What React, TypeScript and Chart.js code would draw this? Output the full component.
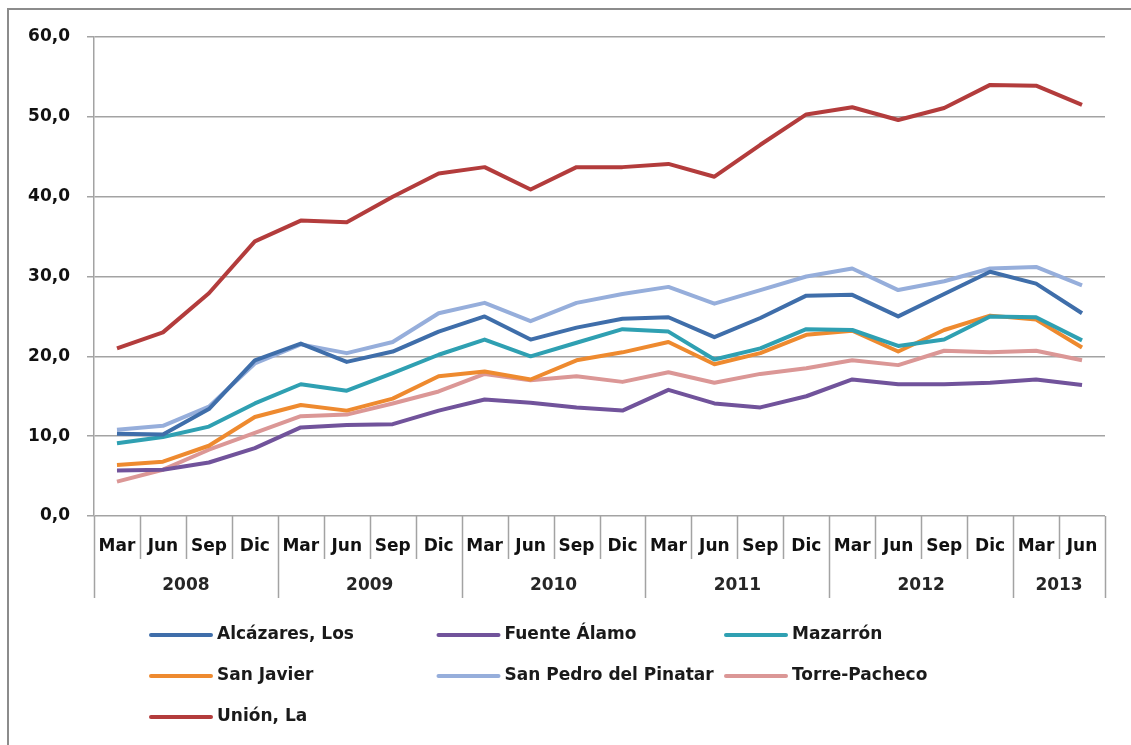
import React, { useEffect, useRef } from "react";
import { Chart, registerables } from "chart.js";

Chart.register(...registerables);

const monthLabels = [
  "Mar", "Jun", "Sep", "Dic",
  "Mar", "Jun", "Sep", "Dic",
  "Mar", "Jun", "Sep", "Dic",
  "Mar", "Jun", "Sep", "Dic",
  "Mar", "Jun", "Sep", "Dic",
  "Mar", "Jun",
];
const yearLabels = ["2008", "2009", "2010", "2011", "2012", "2013"];
const yearSpans = [4, 4, 4, 4, 4, 2];

const alcazares = [10.3, 10.2, 13.4, 19.5, 21.6, 19.3, 20.6, 23.1, 25.0, 22.1, 23.6, 24.7, 24.9, 22.4, 24.8, 27.6, 27.7, 25.0, 27.8, 30.6, 29.1, 25.4];
const fuenteAlamo = [5.7, 5.8, 6.7, 8.5, 11.1, 11.4, 11.5, 13.2, 14.6, 14.2, 13.6, 13.2, 15.8, 14.1, 13.6, 15.0, 17.1, 16.5, 16.5, 16.7, 17.1, 16.4];
const mazarron = [9.1, 9.9, 11.2, 14.1, 16.5, 15.7, 17.9, 20.2, 22.1, 20.0, 21.7, 23.4, 23.1, 19.6, 21.0, 23.4, 23.3, 21.3, 22.1, 25.0, 24.9, 22.0];
const sanJavier = [6.4, 6.8, 8.8, 12.4, 13.9, 13.2, 14.7, 17.5, 18.1, 17.1, 19.5, 20.5, 21.8, 19.0, 20.4, 22.7, 23.2, 20.6, 23.3, 25.1, 24.6, 21.1];
const sanPedro = [10.8, 11.3, 13.7, 19.1, 21.5, 20.4, 21.8, 25.4, 26.7, 24.4, 26.7, 27.8, 28.7, 26.6, 28.3, 30.0, 31.0, 28.3, 29.4, 31.0, 31.2, 28.9];
const torrePacheco = [4.3, 5.8, 8.3, 10.4, 12.5, 12.7, 14.1, 15.6, 17.8, 17.0, 17.5, 16.8, 18.0, 16.7, 17.8, 18.5, 19.5, 18.9, 20.7, 20.5, 20.7, 19.5];
const unionLa = [21.0, 23.0, 27.9, 34.4, 37.0, 36.8, 40.0, 42.9, 43.7, 40.9, 43.7, 43.7, 44.1, 42.5, 46.5, 50.3, 51.2, 49.6, 51.1, 54.0, 53.9, 51.5];

const seriesNames = [
  "Alcázares, Los",
  "Fuente Álamo",
  "Mazarrón",
  "San Javier",
  "San Pedro del Pinatar",
  "Torre-Pacheco",
  "Unión, La",
];
const seriesValues = [alcazares, fuenteAlamo, mazarron, sanJavier, sanPedro, torrePacheco, unionLa];
const seriesColors = ["#3F6EAA", "#71539B", "#2FA0B2", "#EE8A2F", "#96AEDB", "#DB9796", "#B33C3C"];

const FONT = '"DejaVu Sans", sans-serif';
const AXIS_GRAY = "#a3a3a3";

const decorPlugin = {
  id: "decor",
  beforeDraw(chart: any) {
    const ctx = chart.ctx;
    ctx.save();
    ctx.fillStyle = "#ffffff";
    ctx.fillRect(0, 0, chart.width, chart.height);
    ctx.strokeStyle = "#8c8c8c";
    ctx.lineWidth = 2;
    ctx.strokeRect(8, 9, chart.width + 50, chart.height + 50);
    ctx.restore();
  },
  afterDraw(chart: any) {
    const ctx = chart.ctx;
    const xs = chart.scales.x;
    const area = chart.chartArea;
    const bottom = area.bottom;
    ctx.save();
    ctx.strokeStyle = AXIS_GRAY;
    ctx.lineWidth = 1.5;
    const n = monthLabels.length;
    const yearBounds = new Set<number>();
    let acc = 0;
    yearBounds.add(0);
    yearSpans.forEach((s) => {
      acc += s;
      yearBounds.add(acc);
    });
    for (let i = 0; i <= n; i++) {
      const px = Math.round(xs.getPixelForValue(i - 0.5)) + 0.5;
      const len = yearBounds.has(i) ? 82 : 43;
      ctx.beginPath();
      ctx.moveTo(px, bottom);
      ctx.lineTo(px, bottom + len);
      ctx.stroke();
    }
    ctx.fillStyle = "#262626";
    ctx.font = `bold 17px ${FONT}`;
    ctx.textAlign = "center";
    ctx.textBaseline = "middle";
    let start = 0;
    yearSpans.forEach((s, k) => {
      const a = xs.getPixelForValue(start - 0.5);
      const b = xs.getPixelForValue(start + s - 0.5);
      ctx.fillText(yearLabels[k], (a + b) / 2, bottom + 70);
      start += s;
    });
    ctx.textAlign = "left";
    ctx.textBaseline = "middle";
    chart.data.datasets.forEach((ds: any, i: number) => {
      const col = i % 3;
      const row = Math.floor(i / 3);
      const lx = 151 + col * 287.5;
      const ly = bottom + 119 + row * 41;
      ctx.strokeStyle = ds.borderColor;
      ctx.lineWidth = 4;
      ctx.lineCap = "round";
      ctx.beginPath();
      ctx.moveTo(lx, ly);
      ctx.lineTo(lx + 60, ly);
      ctx.stroke();
      ctx.fillStyle = "#1a1a1a";
      ctx.fillText(ds.label, lx + 66, ly);
    });
    ctx.restore();
  },
};

export default function App() {
  const ref = useRef<HTMLCanvasElement | null>(null);
  useEffect(() => {
    if (!ref.current) return;
    const chart = new Chart(ref.current, {
      type: "line",
      data: {
        labels: monthLabels,
        datasets: seriesNames.map((name, i) => ({
          label: name,
          data: seriesValues[i],
          borderColor: seriesColors[i],
          backgroundColor: seriesColors[i],
          borderWidth: 4,
          pointRadius: 0,
          tension: 0,
          fill: false,
          borderJoinStyle: "round" as const,
        })),
      },
      options: {
        responsive: false,
        animation: false,
        layout: { padding: { left: 0, right: 26, top: 37, bottom: 145 } },
        plugins: {
          legend: { display: false },
          tooltip: { enabled: false },
        },
        scales: {
          x: {
            type: "category",
            offset: true,
            grid: { display: false, drawTicks: false },
            border: { display: false },
            ticks: {
              autoSkip: false,
              maxRotation: 0,
              minRotation: 0,
              padding: 20,
              color: "#111",
              font: { family: FONT, size: 17, weight: "bold" },
            },
            afterFit: (scale: any) => {
              scale.height = 84;
            },
          },
          y: {
            min: 0,
            max: 60,
            ticks: {
              stepSize: 10,
              padding: 17,
              color: "#111",
              font: { family: FONT, size: 17, weight: "bold" },
              callback: (v: any) => Number(v).toFixed(1).replace(".", ","),
            },
            grid: { color: AXIS_GRAY, lineWidth: 1.5, tickLength: 7 },
            border: { display: true, color: AXIS_GRAY, width: 1.5 },
            afterFit: (scale: any) => {
              scale.width = 94;
            },
          },
        },
      },
      plugins: [decorPlugin],
    });
    return () => chart.destroy();
  }, []);
  return (
    <div style={{ position: "absolute", left: 0, top: 0, width: 1131, height: 745 }}>
      <canvas ref={ref} width={1131} height={745} />
    </div>
  );
}
